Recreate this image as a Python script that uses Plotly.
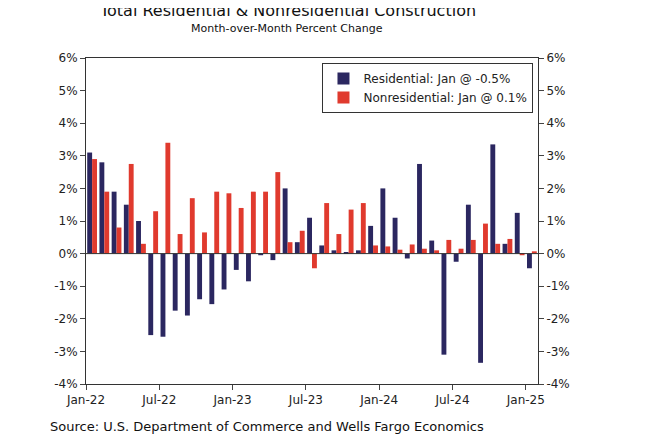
import plotly.graph_objects as go

months = list(range(37))
residential = [3.1, 2.8, 1.9, 1.5, 1.0, -2.5, -2.55, -1.75, -1.9, -1.4, -1.55, -1.1,
               -0.5, -0.85, -0.05, -0.2, 2.0, 0.35, 1.1, 0.25, 0.1, 0.02, 0.1, 0.85,
               2.0, 1.1, -0.15, 2.75, 0.4, -3.1, -0.25, 1.5, -3.35, 3.35, 0.3, 1.25,
               -0.45]
nonresidential = [2.9, 1.9, 0.8, 2.75, 0.3, 1.3, 3.4, 0.6, 1.7, 0.65, 1.9, 1.85,
                  1.4, 1.9, 1.9, 2.5, 0.35, 0.7, -0.45, 1.55, 0.6, 1.35, 1.55, 0.25,
                  0.22, 0.12, 0.28, 0.15, 0.1, 0.42, 0.15, 0.42, 0.92, 0.3, 0.45, -0.05,
                  0.07]
tick_labels = ["Jan-22", "Jul-22", "Jan-23", "Jul-23", "Jan-24", "Jul-24", "Jan-25"]
y_ticks = [-4, -3, -2, -1, 0, 1, 2, 3, 4, 5, 6]

fig = go.Figure()
fig.add_bar(x=months, y=residential, name="Residential: Jan @ -0.5%",
            marker=dict(color="#2b2760", line=dict(width=0)))
fig.add_bar(x=months, y=nonresidential, name="Nonresidential: Jan @ 0.1%",
            marker=dict(color="#e03a2e", line=dict(width=0)))
# invisible trace for the right axis
fig.add_scatter(x=[0], y=[0], yaxis="y2", mode="markers",
                marker=dict(opacity=0), showlegend=False, hoverinfo="skip")

axis_font = dict(family="Verdana, DejaVu Sans", size=12, color="#222")
yaxis_common = dict(range=[-4, 6], tickvals=y_ticks, ticktext=[f"{v}%" for v in y_ticks],
                    showgrid=False, zeroline=False, ticks="outside", ticklen=5,
                    showline=True, linecolor="#333", linewidth=1, tickfont=axis_font,
                    automargin=False)

fig.update_layout(
    width=648, height=443,
    paper_bgcolor="white", plot_bgcolor="white",
    margin=dict(l=78, r=118, t=50, b=67, autoexpand=False),
    barmode="group", bargap=0.2, bargroupgap=0,
    xaxis=dict(range=[-0.5, 36.5], tickvals=[-0.5 + 6 * i for i in range(7)],
               ticktext=tick_labels, showgrid=False, zeroline=False, ticks="outside",
               ticklen=5, showline=True, linecolor="#333", linewidth=1, mirror=True,
               tickfont=axis_font, automargin=False),
    yaxis=yaxis_common,
    yaxis2=dict(overlaying="y", side="right", **yaxis_common),
    legend=dict(x=0.99, y=0.985, xanchor="right", yanchor="top",
                bordercolor="#333", borderwidth=1, bgcolor="white",
                font=dict(family="Verdana, DejaVu Sans", size=12, color="#222"),
                itemwidth=30, tracegroupgap=0),
    shapes=[dict(type="line", xref="paper", yref="y", x0=0, x1=1, y0=0, y1=0,
                 line=dict(color="#333", width=1))],
    annotations=[
        dict(text="Total Residential & Nonresidential Construction",
             xref="paper", yref="paper", x=0.445, y=1.145, xanchor="center",
             yanchor="middle", showarrow=False,
             font=dict(family="Verdana, DejaVu Sans", size=16, color="#111")),
        dict(text="Month-over-Month Percent Change",
             xref="paper", yref="paper", x=0.445, y=1.09, xanchor="center",
             yanchor="middle", showarrow=False,
             font=dict(family="Verdana, DejaVu Sans", size=11, color="#111")),
        dict(text="Source: U.S. Department of Commerce and Wells Fargo Economics",
             xref="paper", yref="paper", x=-0.085, y=-0.1, xanchor="left",
             yanchor="top", showarrow=False,
             font=dict(family="Verdana, DejaVu Sans", size=13, color="#111")),
    ],
)

fig.write_html("out.html")
